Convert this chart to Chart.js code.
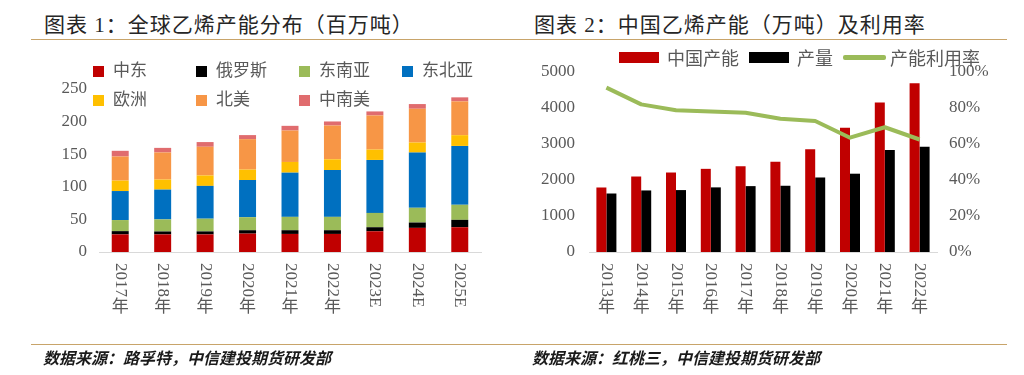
<!DOCTYPE html>
<html>
<head>
<meta charset="utf-8">
<script src="https://cdn.jsdelivr.net/npm/chart.js@4.4.0/dist/chart.umd.min.js"></script>
<style>
  body { margin: 0; background: #fff; }
  #wrap { position: relative; width: 1024px; height: 375px; overflow: hidden; font-family: "Liberation Serif", "Noto Sans CJK SC", serif; }
  canvas { position: absolute; top: 0; }
  .title { position: absolute; top: 12px; font-size: 21px; letter-spacing: 1px; color: #262626; line-height: 26px; white-space: nowrap; }
  .rule { position: absolute; left: 31px; width: 976px; height: 1px; background: #c8a46a; }
  .source { position: absolute; top: 346px; font-family: "Noto Sans CJK SC", sans-serif; font-size: 16px; font-weight: bold; font-style: italic; color: #1a1a1a; line-height: 22px; white-space: nowrap; }
  .legend { position: absolute; font-family: "Noto Sans CJK SC", sans-serif; color: #595959; white-space: nowrap; }
  .leg1 { left: 93px; top: 56px; display: grid; grid-template-columns: repeat(4, 103px); grid-auto-rows: 29px; font-size: 17px; line-height: 26px; }
  .leg1 span.box { display: inline-block; width: 11px; height: 11px; margin-right: 9px; vertical-align: -1px; }
  .leg2 { left: 619px; top: 44px; font-size: 18px; line-height: 26px; display: flex; align-items: center; }
  .leg2 .rect { width: 40px; height: 11px; margin-right: 8px; }
  .leg2 .line { width: 43px; height: 5px; border-radius: 2px; margin-right: 4px; }
  .leg2 .item { margin-right: 10px; }
</style>
</head>
<body>
<div id="wrap">
  <div class="title" style="left:44px;">图表 1：全球乙烯产能分布（百万吨）</div>
  <div class="title" style="left:534px;">图表 2：中国乙烯产能（万吨）及利用率</div>
  <div class="rule" style="top:39px;"></div>
  <div class="rule" style="top:344px;"></div>
  <canvas id="left-chart" width="512" height="375" style="left:0;"></canvas>
  <canvas id="right-chart" width="512" height="375" style="left:512px;"></canvas>
  <div class="legend leg1" id="legend-left"></div>
  <div class="legend leg2" id="legend-right"></div>
  <div class="source" style="left:43px;">数据来源：路孚特，中信建投期货研发部</div>
  <div class="source" style="left:532px;">数据来源：红桃三，中信建投期货研发部</div>
</div>
<script>
// chart 1: global ethylene capacity by region (million t)
const years1 = ["2017年", "2018年", "2019年", "2020年", "2021年", "2022年", "2023E", "2024E", "2025E"];
const middleEast = [27, 27, 27, 28.2, 27.7, 27.7, 31.8, 37, 38];
const russia = [5, 4.5, 4.6, 5.2, 5.7, 5.7, 6.2, 8.2, 11.3];
const southeastAsia = [17, 18.5, 19.5, 20, 20.5, 20.5, 22, 22.6, 23.1];
const northeastAsia = [44.5, 45.7, 50.3, 57, 67.8, 71.9, 81.2, 84.7, 90.3];
const europe = [16, 15.4, 16, 16, 16.4, 16.4, 15.9, 15.4, 16.5];
const northAmerica = [37, 41.6, 44, 46.7, 48.2, 51.8, 52.3, 51.8, 51.8];
const southAmerica = [8.7, 7, 7.2, 6.2, 7.2, 6.2, 6.2, 7.2, 6.2];
const regionNames = ["中东", "俄罗斯", "东南亚", "东北亚", "欧洲", "北美", "中南美"];

// chart 2: China capacity / output (10k t) and utilisation (%)
const years2 = ["2013年", "2014年", "2015年", "2016年", "2017年", "2018年", "2019年", "2020年", "2021年", "2022年"];
const capacity = [1792, 2097, 2208, 2310, 2385, 2505, 2855, 3450, 4150, 4690];
const output = [1625, 1710, 1720, 1795, 1830, 1840, 2070, 2175, 2835, 2925];
const utilization = [91.3, 82, 78.7, 78.1, 77.4, 74, 72.8, 63.5, 69.3, 62.5];
const seriesNames2 = ["中国产能", "产量", "产能利用率"];

const regionColors = ["#C00000", "#000000", "#9BBB59", "#0070C0", "#FFC000", "#F79646", "#E06C6E"];
const TICK_FONT = { family: '"Liberation Serif", "Noto Sans CJK SC"', size: 17 };
const TICK_COLOR = "#595959";

// x labels drawn vertically: digits turned sideways, 年 upright
const verticalLabels = {
  id: "verticalLabels",
  afterDraw(chart) {
    const ctx = chart.ctx;
    const xs = chart.scales.x;
    const top = chart.chartArea.bottom + 11;
    ctx.save();
    ctx.font = '17px "Liberation Serif", "Noto Sans CJK SC"';
    ctx.fillStyle = TICK_COLOR;
    chart.data.labels.forEach((lab, i) => {
      const px = xs.getPixelForValue(i);
      const m = lab.match(/^([0-9A-Za-z]+)(.*)$/);
      const latin = m ? m[1] : lab;
      const rest = m ? m[2] : "";
      ctx.save();
      ctx.translate(px, top);
      ctx.rotate(Math.PI / 2);
      ctx.textAlign = "left";
      ctx.textBaseline = "middle";
      ctx.fillText(latin, 0, 0);
      ctx.restore();
      if (rest) {
        const w = ctx.measureText(latin).width;
        ctx.textAlign = "center";
        ctx.textBaseline = "top";
        ctx.fillText(rest, px, top + w + 2);
      }
    });
    ctx.restore();
  }
};

const regionData = [middleEast, russia, southeastAsia, northeastAsia, europe, northAmerica, southAmerica];

new Chart(document.getElementById("left-chart"), {
  type: "bar",
  data: {
    labels: years1,
    datasets: regionNames.map((name, i) => ({
      label: name,
      data: regionData[i],
      backgroundColor: regionColors[i],
      barPercentage: 0.4,
      categoryPercentage: 1.0
    }))
  },
  options: {
    responsive: false,
    animation: false,
    layout: { padding: { top: 89, right: 31, bottom: 123, left: 0 } },
    plugins: { legend: { display: false }, tooltip: { enabled: false } },
    scales: {
      x: {
        stacked: true,
        grid: { display: false, drawTicks: false },
        border: { display: true, color: "#d9d9d9", width: 1 },
        ticks: { display: false }
      },
      y: {
        stacked: true,
        min: 0, max: 250,
        afterFit(s) { s.width = 99; },
        grid: { display: false, drawTicks: false },
        border: { display: false },
        ticks: { stepSize: 50, padding: 12, color: TICK_COLOR, font: TICK_FONT, callback: (v) => String(v) }
      }
    }
  },
  plugins: [verticalLabels]
});

new Chart(document.getElementById("right-chart"), {
  type: "bar",
  data: {
    labels: years2,
    datasets: [
      { type: "line", label: seriesNames2[2], data: utilization, yAxisID: "y1", borderColor: "#9BBB59",
        borderWidth: 4, pointRadius: 0, tension: 0, borderJoinStyle: "round", order: 0 },
      { label: seriesNames2[0], data: capacity, backgroundColor: "#C00000", yAxisID: "y",
        categoryPercentage: 0.575, barPercentage: 1.0, order: 1 },
      { label: seriesNames2[1], data: output, backgroundColor: "#000000", yAxisID: "y",
        categoryPercentage: 0.575, barPercentage: 1.0, order: 1 }
    ]
  },
  options: {
    responsive: false,
    animation: false,
    layout: { padding: { top: 72, right: 0, bottom: 123, left: 0 } },
    plugins: { legend: { display: false }, tooltip: { enabled: false } },
    scales: {
      x: {
        grid: { display: false, drawTicks: false },
        border: { display: true, color: "#d9d9d9", width: 1 },
        ticks: { display: false }
      },
      y: {
        position: "left",
        min: 0, max: 5000,
        afterFit(s) { s.width = 77; },
        grid: { display: false, drawTicks: false },
        border: { display: false },
        ticks: { stepSize: 1000, padding: 14, color: TICK_COLOR, font: TICK_FONT, callback: (v) => String(v) }
      },
      y1: {
        position: "right",
        min: 0, max: 100,
        afterFit(s) { s.width = 87; },
        grid: { display: false, drawTicks: false },
        border: { display: false },
        ticks: { stepSize: 20, padding: 12, color: TICK_COLOR, font: TICK_FONT,
                 callback: (v) => v + "%" }
      }
    }
  },
  plugins: [verticalLabels]
});

// html legends
const legLeft = document.getElementById("legend-left");
regionNames.forEach((name, i) => {
  const d = document.createElement("div");
  d.innerHTML = '<span class="box" style="background:' + regionColors[i] + '"></span>' + name;
  legLeft.appendChild(d);
});

const legRight = document.getElementById("legend-right");
legRight.innerHTML =
  '<span class="rect" style="background:#C00000"></span><span class="item">' + seriesNames2[0] + '</span>' +
  '<span class="rect" style="background:#000000"></span><span class="item">' + seriesNames2[1] + '</span>' +
  '<span class="line" style="background:#9BBB59"></span><span>' + seriesNames2[2] + '</span>';
</script>
</body>
</html>
